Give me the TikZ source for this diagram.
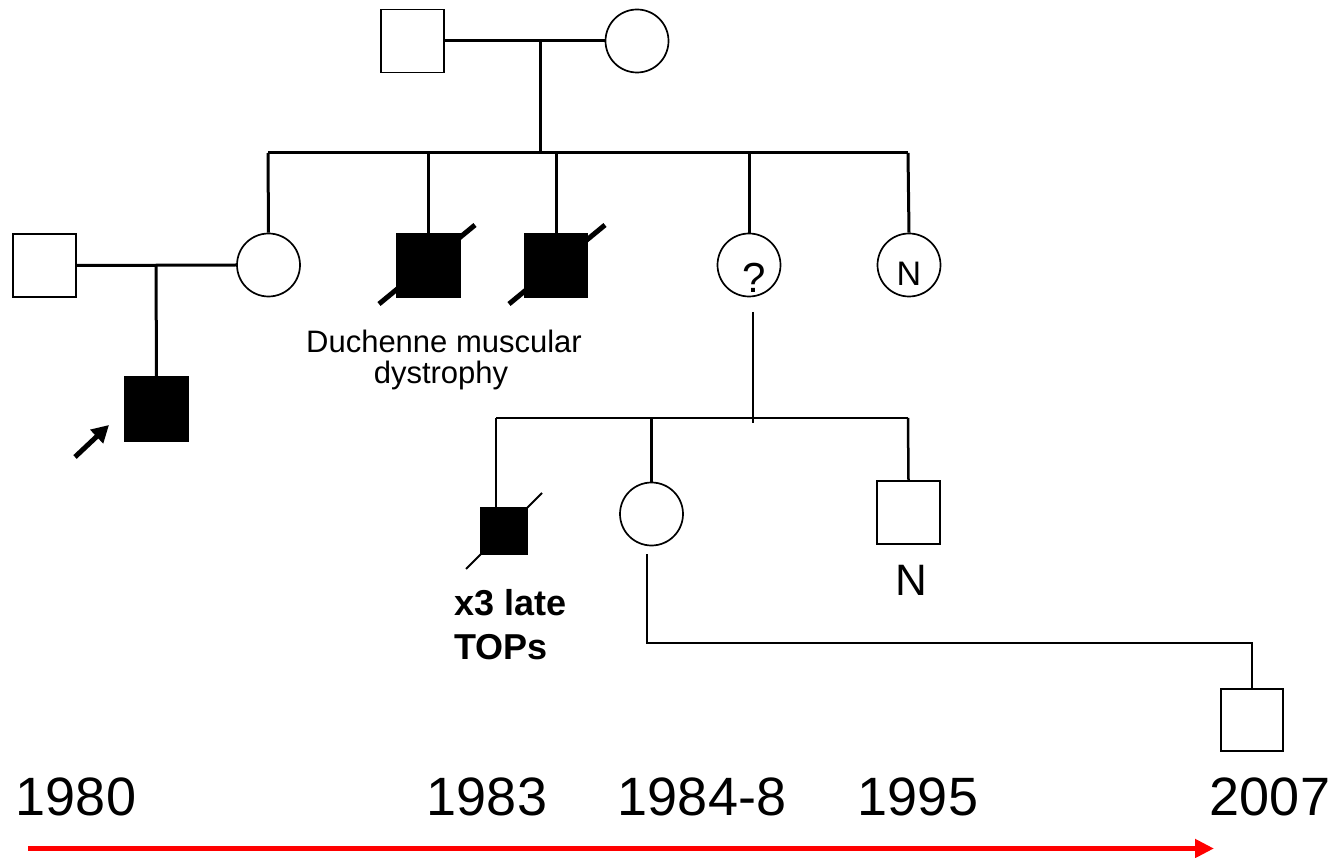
\documentclass[tikz,border=0pt]{standalone}
\usepackage{fontspec}
\setmainfont{Liberation Sans}
\usetikzlibrary{arrows.meta}
\begin{document}
\begin{tikzpicture}[x=1pt,y=-1pt,
  pl/.style={line width=3pt},
  pls/.style={line width=2.5pt},
  msq/.style={draw, rectangle, line width=1.7pt, minimum size=63pt, inner sep=0pt},
  fsq/.style={msq, fill=black},
  mcirc/.style={draw, circle, line width=1.7pt, minimum size=63pt, inner sep=0pt},
  lbl/.style={inner sep=0pt, anchor=base},
  slashthick/.style={line width=5pt},
  slashthin/.style={line width=1.8pt},
  yearlbl/.style={lbl, font=\fontsize{54}{60}\selectfont}
]
\useasboundingbox (0,0) rectangle (1331,858);

% generation I
\node[msq] (f1) at (412.5,41) {};
\node[mcirc] (m1) at (637,41) {};
\coordinate (c1) at (540,41);
\coordinate (s1) at (540,153);
\coordinate (s1l) at (268,153);
\coordinate (s1r) at (908,153);
\draw[pl] (f1.east) -- (m1.west);
\draw[pl] (c1) -- (s1);
\draw[pl] (s1l) -- (s1r);

% generation II
\node[msq] (sp) at (44.5,265.5) {};
\node[mcirc] (g2a) at (268.5,265) {};
\coordinate (g2bs1) at (379,304);
\coordinate (g2bs2) at (475,225);
\draw[slashthick] (g2bs1) -- (g2bs2);
\node[fsq] (g2b) at (428.5,265.5) {};
\coordinate (g2cs1) at (509,304);
\coordinate (g2cs2) at (605,225);
\draw[slashthick] (g2cs1) -- (g2cs2);
\node[fsq] (g2c) at (556,265.5) {};
\node[mcirc] (g2d) at (749,265) {};
\node[mcirc] (g2e) at (909,265) {};
\node[lbl, font=\fontsize{42}{46}\selectfont] (q) at (754,293) {?};
\node[lbl, font=\fontsize{34}{38}\selectfont] (n1) at (909,286) {N};

\draw[pl] (s1l) -- (g2a.north);
\draw[pl] (g2b.north |- s1) -- (g2b.north);
\draw[pl] (g2c.north |- s1) -- (g2c.north);
\draw[pl] (g2d.north |- s1) -- (g2d.north);
\draw[pl] (s1r) -- (g2e.north);

% couple sp -- g2a and proband
\draw[pl] (sp.east) -- (g2a.west);
\coordinate (c2) at (156,265);
\node[fsq, minimum size=64pt] (pb) at (156.5,409) {};
\draw[pl] (c2) -- (pb.north);
\coordinate (arT) at (75,457);
\coordinate (arH) at (109,425);
\draw[line width=5pt, -{Triangle[length=17pt,width=18pt]}] (arT) -- (arH);

\node[lbl, font=\fontsize{31}{36}\selectfont] (dmd1) at (444,353) {Duchenne muscular};
\node[lbl, font=\fontsize{31}{36}\selectfont] (dmd2) at (441,384) {dystrophy};

% generation III
\coordinate (c3a) at (753,312);
\coordinate (c3b) at (753,423);
\coordinate (s2l) at (496,418);
\coordinate (s2r) at (908,418);
\draw[line width=2pt] (c3a) -- (c3b);
\draw[pls] (s2l) -- (s2r);

\coordinate (g3as1) at (466,569);
\coordinate (g3as2) at (542,493);
\draw[slashthin] (g3as1) -- (g3as2);
\node[fsq, minimum size=47pt] (g3a) at (504,531) {};
\node[mcirc] (g3b) at (651.5,514) {};
\node[msq] (g3c) at (908.5,512.5) {};
\coordinate (g3atop) at (496,507);
\draw[pls] (s2l) -- (g3atop);
\draw[pls] (g3b.north |- s2l) -- (g3b.north);
\draw[pls] (s2r) -- (g3c.north);

\node[lbl, font=\fontsize{44}{48}\selectfont] (n2) at (911,595) {N};
\node[lbl, anchor=base west, font=\bfseries\fontsize{36}{40}\selectfont] (tops1) at (454,615) {x3 late};
\node[lbl, anchor=base west, font=\bfseries\fontsize{36}{40}\selectfont] (tops2) at (454,659) {TOPs};

% generation IV
\node[msq, minimum size=62pt] (g4) at (1252,720) {};
\coordinate (c4a) at (647,554);
\coordinate (c4b) at (647,643);
\coordinate (c4c) at (1252,643);
\draw[pls] (c4a) -- (c4b) -- (c4c) -- (g4.north);

% timeline
\node[yearlbl] (y1) at (76,815) {1980};
\node[yearlbl] (y2) at (487,815) {1983};
\node[yearlbl] (y3) at (702,815) {1984-8};
\node[yearlbl] (y4) at (918,815) {1995};
\node[yearlbl] (y5) at (1270,815) {2007};
\coordinate (tl1) at (28,848.5);
\coordinate (tl2) at (1214,848.5);
\draw[red, line width=5pt, -{Triangle[length=19pt,width=18pt]}] (tl1) -- (tl2);
\end{tikzpicture}
\end{document}
